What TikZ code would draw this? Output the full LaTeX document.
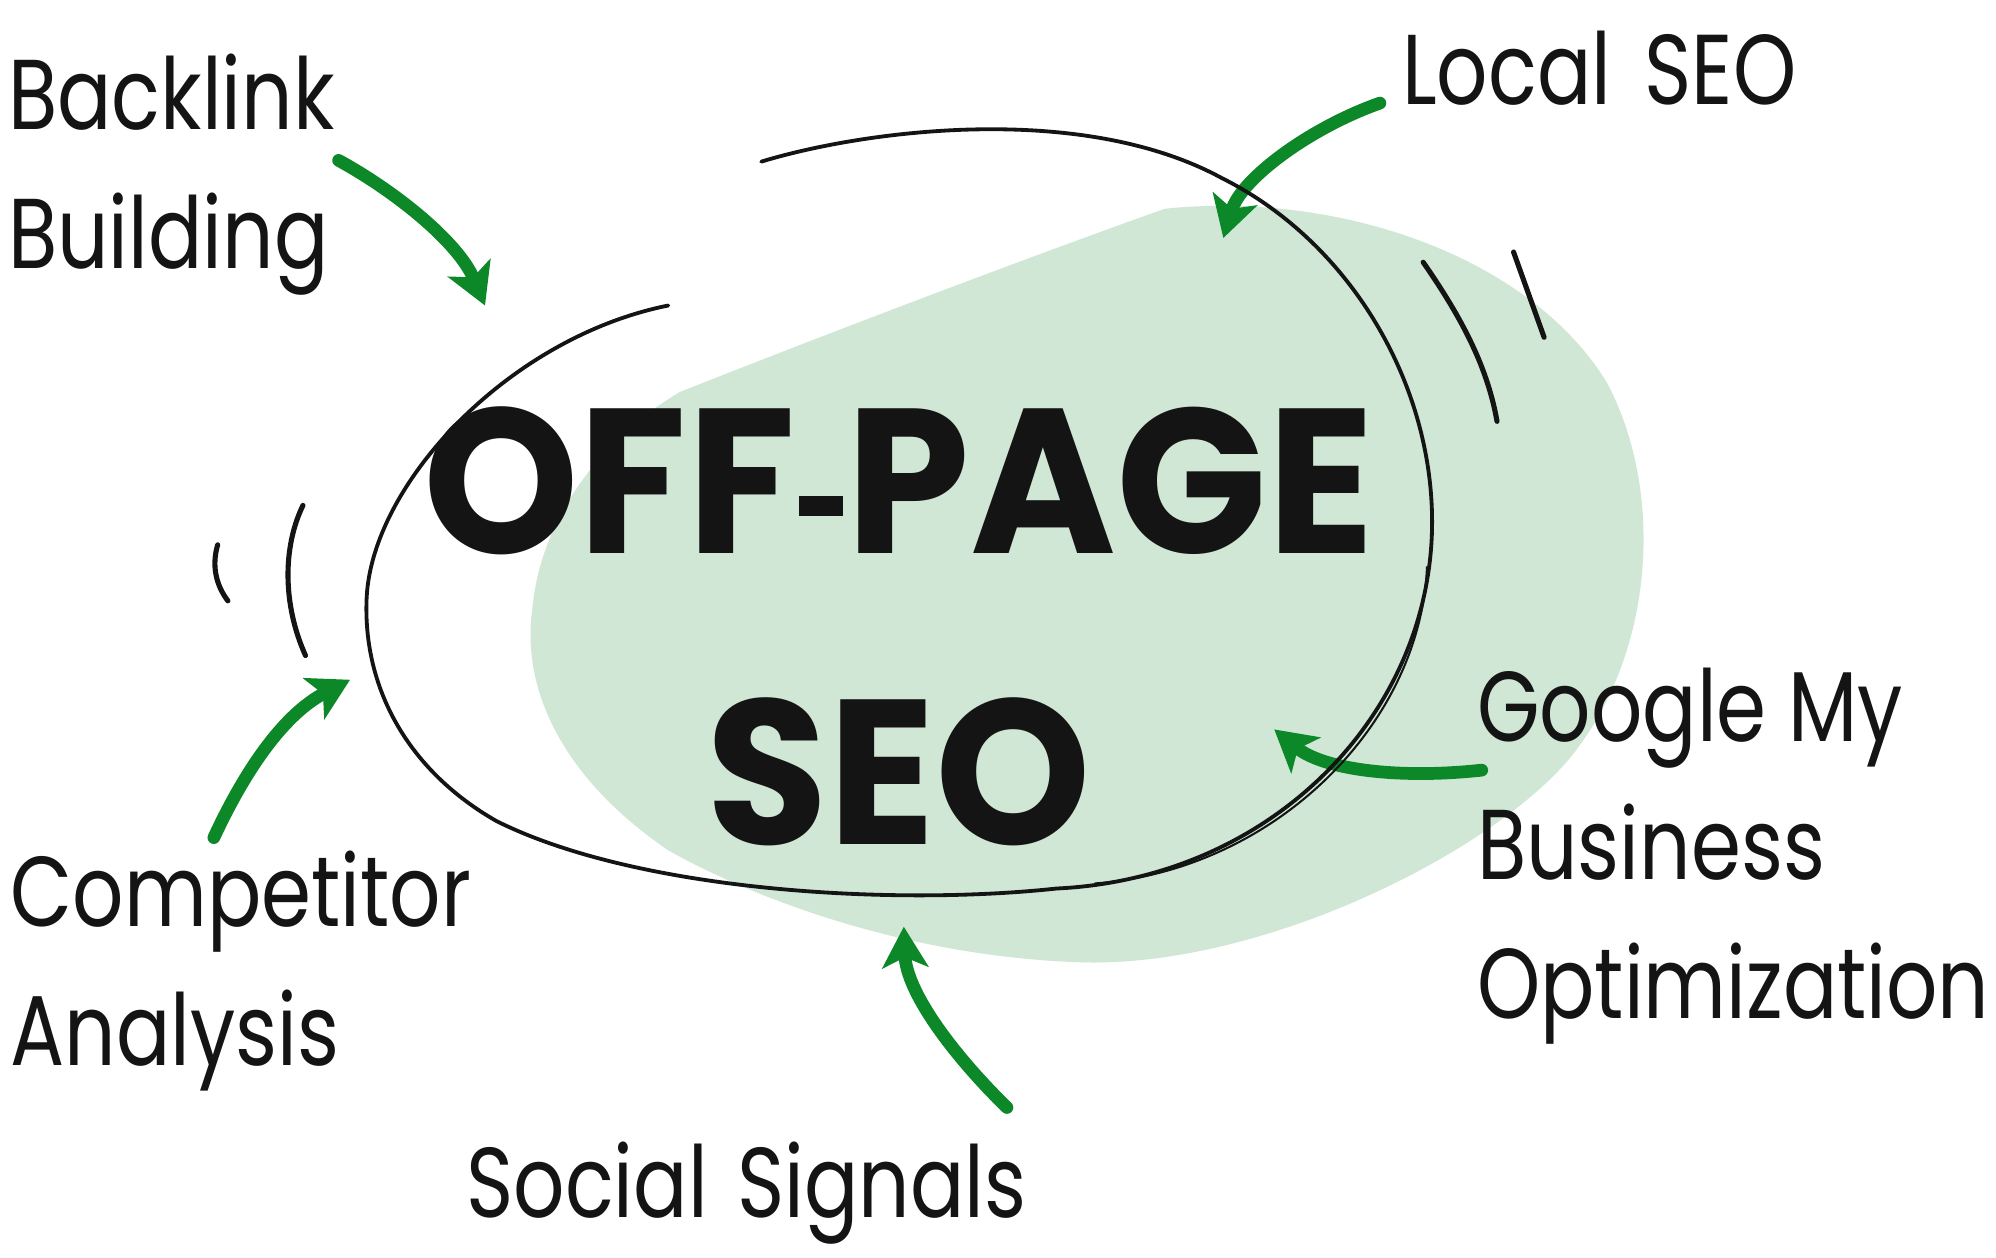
\documentclass[tikz,border=0pt]{standalone}
\usepackage{fontspec}
\usepackage{xcolor}
\usetikzlibrary{arrows.meta}
\newfontfamily\labelfont[FakeStretch=0.81]{Poppins}
\newfontfamily\titlefont[FakeStretch=0.96]{Poppins}
\definecolor{blobgreen}{RGB}{207,231,212}
\definecolor{arrowgreen}{RGB}{12,136,40}
\definecolor{inkblack}{RGB}{20,20,20}
\newcommand{\titledash}{\hspace{0.02em}\raisebox{0.18em}{\rule{0.21em}{0.1em}}\hspace{0.02em}}

\begin{document}
\begin{tikzpicture}[x=0.5pt,y=-0.5pt,
  topic/.style={font=\labelfont\fontsize{39}{54.5}\selectfont, text=inkblack, align=left, anchor=north west, inner sep=0pt},
  green arrow/.style={draw=arrowgreen, line width=5pt, line cap=round, -{Stealth[length=16pt,width=18pt,inset=4pt]}},
  loop line/.style={draw=inkblack, line width=1.5pt, line cap=round},
  tick line/.style={draw=inkblack, line width=2pt, line cap=round}]
\fill[white] (0,0) rectangle (1568,988);
\useasboundingbox (0,0) rectangle (1568,988);
% Drawing the green blob
\fill[blobgreen] (915,164) .. controls (1050,150) and (1200,200) .. (1262,300)
  .. controls (1305,380) and (1302,500) .. (1242,584)
  .. controls (1190,660) and (1000,760) .. (850,756)
  .. controls (720,752) and (600,710) .. (525,668)
  .. controls (440,610) and (410,540) .. (418,480)
  .. controls (425,400) and (480,340) .. (534,308)
  .. controls (650,262) and (800,205) .. (915,164) -- cycle;
% Labels
\node[topic] (backlink) at (6,42) {Backlink\\Building};
\node[topic] (localseo) at (1101,24) {Local\hspace{0.12em} SEO};
\node[topic] (competitor) at (8,668) {Competitor\\Analysis};
\node[topic] (gmb) at (1160,524) {Google My\\Business\\Optimization};
\node[topic] (social) at (366,897) {Social\hspace{0.08em} Signals};
% Arrow ends
\coordinate (backlink-from) at (266,126);
\coordinate (backlink-to) at (381,240);
\coordinate (localseo-from) at (1084,81);
\coordinate (localseo-to) at (961,187);
\coordinate (competitor-from) at (168,658);
\coordinate (competitor-to) at (275,534);
\coordinate (gmb-from) at (1164,605);
\coordinate (gmb-to) at (1001,573);
\coordinate (social-from) at (791,870);
\coordinate (social-to) at (710,728);
% Drawing arrows
\draw[green arrow] (backlink-from) .. controls (310,150) and (360,190) .. (backlink-to);
\draw[green arrow] (localseo-from) .. controls (1030,100) and (975,140) .. (localseo-to);
\draw[green arrow] (competitor-from) .. controls (195,600) and (225,560) .. (competitor-to);
\draw[green arrow] (gmb-from) .. controls (1100,612) and (1040,605) .. (gmb-to);
\draw[green arrow] (social-from) .. controls (750,830) and (712,780) .. (social-to);
% Drawing the loop
\draw[loop line] (598,127) .. controls (680,102) and (850,80) .. (960,140)
  .. controls (1060,190) and (1125,300) .. (1125,410)
  .. controls (1125,560) and (1000,690) .. (830,698)
  .. controls (700,712) and (500,700) .. (390,645)
  .. controls (320,605) and (285,540) .. (288,470)
  .. controls (292,380) and (400,265) .. (525,240);
\draw[inkblack, line width=0.8pt] (1121,445) .. controls (1116,570) and (1000,684) .. (860,694);
% Ticks
\draw[tick line] (1118,206) .. controls (1145,245) and (1168,285) .. (1176,331);
\draw[tick line] (1189,198) -- (1213,265);
\draw[tick line] (238,397) .. controls (222,430) and (222,475) .. (240,515);
\draw[tick line] (171,428) .. controls (166,445) and (170,460) .. (179,472);
% Title
\node[font=\titlefont\bfseries\fontsize{81}{114.5}\selectfont, align=center, anchor=north, inner sep=0pt, text=inkblack] (title) at (706,319) {OFF\titledash PAGE\\SEO};
\end{tikzpicture}
\end{document}
